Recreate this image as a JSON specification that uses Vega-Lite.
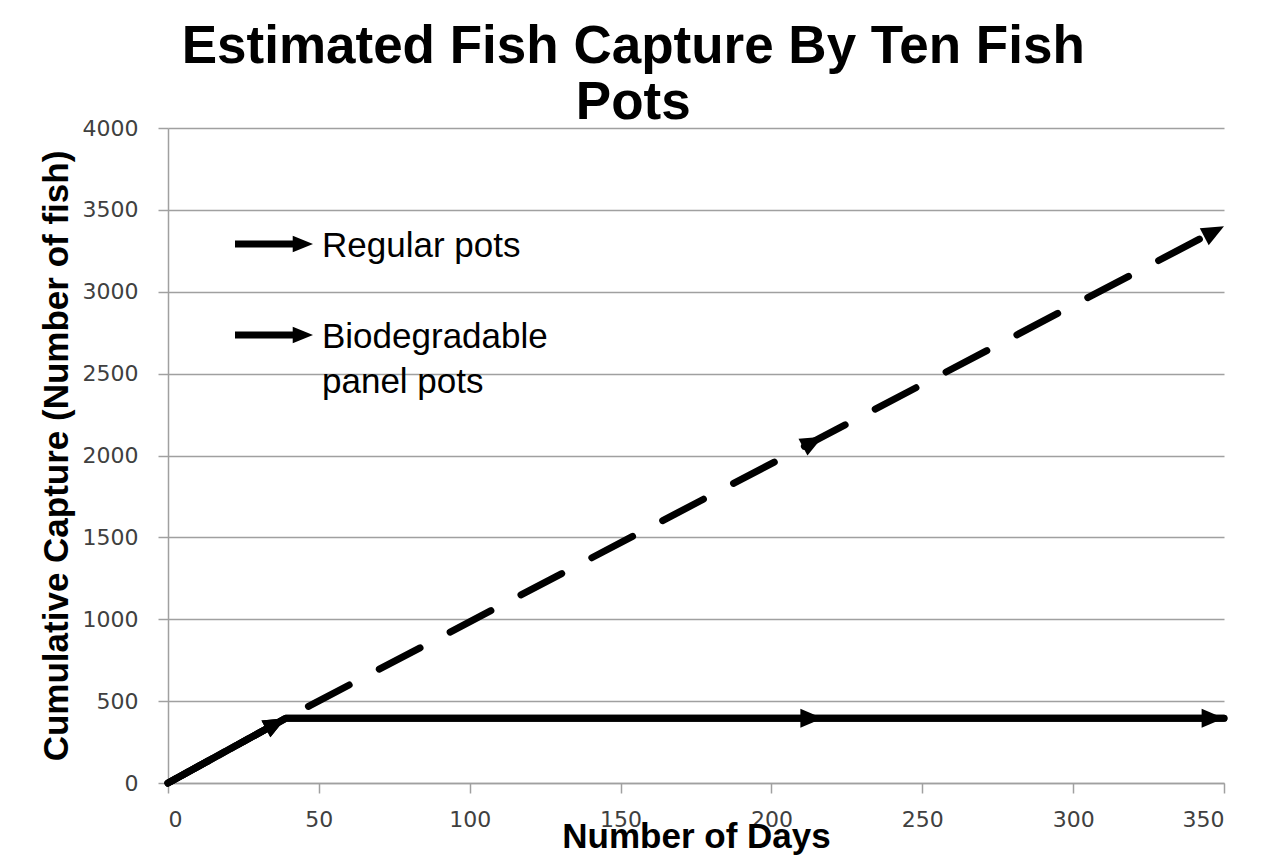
{
  "$schema": "https://vega.github.io/schema/vega-lite/v6.json",
  "autosize": {"type": "none"},
  "width": 1056,
  "height": 655,
  "padding": {"left": 168, "top": 128, "right": 45, "bottom": 81},
  "background": "white",
  "title": {
    "text": ["Estimated Fish Capture By Ten Fish", "Pots"],
    "font": "Liberation Sans",
    "fontSize": 53,
    "fontWeight": "bold",
    "color": "black",
    "lineHeight": 56,
    "anchor": "middle",
    "frame": "bounds",
    "offset": -13
  },
  "config": {
    "view": {"stroke": null},
    "axis": {
      "labelFont": "DejaVu Sans",
      "labelFontSize": 22,
      "labelColor": "#404040",
      "titleFont": "Liberation Sans",
      "titleFontSize": 35,
      "titleFontWeight": "bold",
      "titleColor": "black",
      "gridColor": "#a0a0a0",
      "gridWidth": 1.5,
      "domainColor": "#a0a0a0",
      "domainWidth": 1.5,
      "tickColor": "#a0a0a0",
      "tickWidth": 1.5,
      "tickSize": 10
    }
  },
  "data": {
    "values": [
      {"series": "Regular pots", "day": 0, "fish": 0},
      {"series": "Regular pots", "day": 39, "fish": 395},
      {"series": "Regular pots", "day": 217, "fish": 2115},
      {"series": "Regular pots", "day": 350, "fish": 3400},
      {"series": "Biodegradable panel pots", "day": 0, "fish": 0},
      {"series": "Biodegradable panel pots", "day": 39, "fish": 395},
      {"series": "Biodegradable panel pots", "day": 217, "fish": 395},
      {"series": "Biodegradable panel pots", "day": 350, "fish": 395}
    ]
  },
  "encoding": {
    "x": {
      "field": "day",
      "type": "quantitative",
      "scale": {"domain": [0, 350], "nice": false, "zero": false},
      "axis": {
        "title": "Number of Days",
        "values": [0, 50, 100, 150, 200, 250, 300, 350],
        "format": "d",
        "grid": false,
        "labelPadding": 16,
        "titlePadding": -11
      }
    },
    "y": {
      "field": "fish",
      "type": "quantitative",
      "scale": {"domain": [0, 4000], "nice": false},
      "axis": {
        "title": "Cumulative Capture (Number of fish)",
        "values": [0, 500, 1000, 1500, 2000, 2500, 3000, 3500, 4000],
        "format": "d",
        "grid": true,
        "labelPadding": 20,
        "titlePadding": 8
      }
    }
  },
  "layer": [
    {
      "mark": {"type": "line", "strokeWidth": 7, "strokeCap": "round", "strokeJoin": "round"},
      "encoding": {
        "color": {
          "field": "series",
          "type": "nominal",
          "scale": {"domain": ["Regular pots", "Biodegradable panel pots"], "range": ["black", "black"]},
          "legend": {
            "orient": "none",
            "legendX": 67,
            "legendY": 77,
            "title": null,
            "padding": 0,
            "rowPadding": 32,
            "symbolType": "M-1,-0.09L0.48,-0.09L0.48,-0.21L1,0L0.48,0.21L0.48,0.09L-1,0.09Z",
            "symbolSize": 6084,
            "symbolStrokeWidth": 0,
            "symbolFillColor": "black",
            "labelFont": "Liberation Sans",
            "labelFontSize": 35,
            "labelColor": "black",
            "labelOffset": 9,
            "labelLimit": 0,
            "labelBaseline": "top",
            "labelExpr": "datum.label == 'Biodegradable panel pots' ? ['Biodegradable', 'panel pots'] : datum.label",
            "encode": {
              "symbols": {"update": {"fill": {"value": "black"}, "strokeWidth": {"value": 0}}},
              "labels": {"update": {"dy": {"value": -15}, "lineHeight": {"value": 45}}}
            }
          }
        },
        "strokeDash": {
          "field": "series",
          "type": "nominal",
          "scale": {"domain": ["Regular pots", "Biodegradable panel pots"], "range": [[46, 34], [1, 0]]},
          "legend": null
        }
      }
    },
    {
      "transform": [{"filter": "datum.series == 'Biodegradable panel pots'"}],
      "mark": {"type": "line", "strokeWidth": 7, "strokeCap": "round", "strokeJoin": "round", "color": "black"},
      "encoding": {}
    },
    {
      "transform": [{"filter": "datum.day > 0 && (datum.series == 'Regular pots' || datum.day < 100)"}],
      "mark": {"type": "point", "shape": "M-2,-0.85L0,0L-2,0.85Z", "size": 500, "filled": true, "color": "black", "opacity": 1, "angle": -28},
      "encoding": {}
    },
    {
      "transform": [{"filter": "datum.series == 'Biodegradable panel pots' && datum.day > 100"}],
      "mark": {"type": "point", "shape": "M-2,-0.85L0,0L-2,0.85Z", "size": 500, "filled": true, "color": "black", "opacity": 1, "angle": 0},
      "encoding": {}
    }
  ]
}
